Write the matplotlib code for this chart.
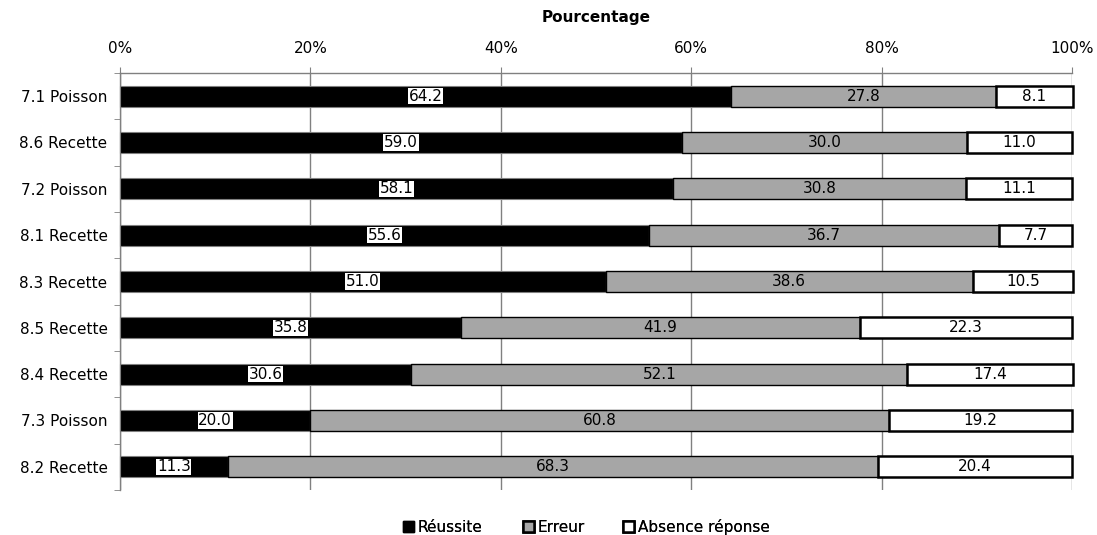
import matplotlib
matplotlib.use("Agg")
import matplotlib.pyplot as plt
import numpy as np
from matplotlib.ticker import FixedLocator, PercentFormatter
from matplotlib.patches import Patch

plt.rcParams['font.family'] = ['DejaVu Sans']

categories = ["7.1 Poisson", "8.6 Recette", "7.2 Poisson", "8.1 Recette",
              "8.3 Recette", "8.5 Recette", "8.4 Recette", "7.3 Poisson", "8.2 Recette"]
reussite = [64.2, 59.0, 58.1, 55.6, 51.0, 35.8, 30.6, 20.0, 11.3]
erreur = [27.8, 30.0, 30.8, 36.7, 38.6, 41.9, 52.1, 60.8, 68.3]
absence = [8.1, 11.0, 11.1, 7.7, 10.5, 22.3, 17.4, 19.2, 20.4]
series_names = ["Réussite", "Erreur", "Absence réponse"]
x_ticks = [0, 20, 40, 60, 80, 100]

W, H = 1097, 535
FS = 11
fig = plt.figure(figsize=(W / 100, H / 100), dpi=100)
ax = fig.add_axes([120 / W, 1 - 490 / H, (1072 - 120) / W, (490 - 73) / H])

n = len(categories)
y = np.arange(n)
h = 0.46

r = np.array(reussite)
e = np.array(erreur)
a = np.array(absence)

ax.barh(y, r, height=h, color="black", edgecolor="#808080", linewidth=0.8,
        zorder=3, clip_on=False)
ax.barh(y, e, left=r, height=h, color="#a6a6a6", edgecolor="black", linewidth=1.0,
        zorder=3, clip_on=False)
ax.barh(y, a, left=r + e, height=h, color="white", edgecolor="black", linewidth=1.8,
        zorder=3, clip_on=False)

for i in range(n):
    ax.text(r[i] / 2, y[i], f"{r[i]:.1f}", ha="center", va="center", fontsize=FS,
            color="black", zorder=5,
            bbox=dict(boxstyle="square,pad=0.05", facecolor="white", edgecolor="none"))
    ax.text(r[i] + e[i] / 2, y[i], f"{e[i]:.1f}", ha="center", va="center",
            fontsize=FS, color="black", zorder=5)
    ax.text(r[i] + e[i] + a[i] / 2, y[i], f"{a[i]:.1f}", ha="center", va="center",
            fontsize=FS, color="black", zorder=5)

ax.set_xlim(0, 100)
ax.set_ylim(n - 0.5, -0.5)
ax.xaxis.set_major_locator(FixedLocator(x_ticks))
ax.xaxis.set_major_formatter(PercentFormatter(decimals=0))
ax.xaxis.tick_top()
ax.xaxis.set_label_position("top")
ax.set_xlabel("Pourcentage", fontsize=FS, fontweight="bold", labelpad=14)
ax.grid(axis="x", color="#808080", linewidth=1.0, zorder=0)
ax.set_axisbelow(True)

ax.set_yticks(y)
ax.set_yticklabels(categories, fontsize=FS)
ax.yaxis.set_minor_locator(FixedLocator(np.arange(-0.5, n, 1.0)))
ax.tick_params(axis="y", which="major", length=0, pad=9)
ax.tick_params(axis="y", which="minor", length=4, color="#808080", direction="out")
ax.tick_params(axis="x", which="major", length=4, color="#808080", labelsize=FS, pad=8)

for side in ["right", "bottom"]:
    ax.spines[side].set_visible(False)
for side in ["top", "left"]:
    ax.spines[side].set_color("#808080")
    ax.spines[side].set_linewidth(1.0)

# legend entries laid out along the bottom, one per series
handles = [Patch(facecolor="black", edgecolor="black"),
           Patch(facecolor="#a6a6a6", edgecolor="black", linewidth=1.8),
           Patch(facecolor="white", edgecolor="black", linewidth=1.8)]
entry_x = [403, 523, 623]
for hnd, name, x0 in zip(handles, series_names, entry_x):
    leg = fig.legend([hnd], [name], loc="center left",
                     bbox_to_anchor=(x0 / W, 1 - 527 / H), frameon=False, fontsize=FS,
                     handlelength=0.75, handleheight=0.75, handletextpad=0.2,
                     borderpad=0, borderaxespad=0)
    fig.add_artist(leg)

fig.savefig("out.png", dpi=100)
